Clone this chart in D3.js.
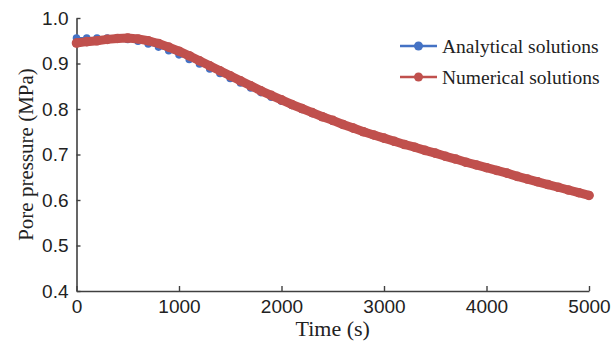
<!DOCTYPE html>
<html>
<head>
<meta charset="utf-8">
<script src="https://cdn.jsdelivr.net/npm/d3@7"></script>
<style>
  body { margin: 0; background: #fff; }
  svg { font-family: "Liberation Serif", "Times New Roman", serif; }
</style>
</head>
<body>
<svg id="chart" width="613" height="347"></svg>
<script>
const times = [0, 100, 200, 300, 400, 500, 600, 700, 800, 900,
  1000, 1100, 1200, 1300, 1400, 1500, 1600, 1700, 1800, 1900,
  2000, 2100, 2200, 2300, 2400, 2500, 2600, 2700, 2800, 2900,
  3000, 3100, 3200, 3300, 3400, 3500, 3600, 3700, 3800, 3900,
  4000, 4100, 4200, 4300, 4400, 4500, 4600, 4700, 4800, 4900, 5000];

const analytical = [0.956, 0.956, 0.956, 0.956, 0.955, 0.953, 0.949, 0.943, 0.936, 0.928,
  0.919, 0.909, 0.899, 0.888, 0.878, 0.867, 0.857, 0.846, 0.836, 0.826,
  0.817, 0.808, 0.799, 0.790, 0.782, 0.773, 0.765, 0.757, 0.750, 0.742,
  0.735, 0.729, 0.722, 0.716, 0.709, 0.703, 0.696, 0.690, 0.683, 0.677,
  0.671, 0.665, 0.659, 0.652, 0.646, 0.640, 0.634, 0.628, 0.622, 0.616, 0.610];

const numerical = [0.945, 0.948, 0.950, 0.953, 0.955, 0.956, 0.954, 0.950, 0.944, 0.936,
  0.927, 0.917, 0.906, 0.895, 0.884, 0.873, 0.862, 0.851, 0.840, 0.830,
  0.820, 0.810, 0.801, 0.792, 0.783, 0.775, 0.766, 0.758, 0.750, 0.743,
  0.736, 0.729, 0.722, 0.716, 0.709, 0.703, 0.696, 0.690, 0.683, 0.677,
  0.671, 0.665, 0.659, 0.652, 0.646, 0.640, 0.634, 0.628, 0.622, 0.616, 0.610];

const xTicks = [0, 1000, 2000, 3000, 4000, 5000];
const yTicks = [0.4, 0.5, 0.6, 0.7, 0.8, 0.9, 1.0];
const seriesNames = ['Analytical solutions', 'Numerical solutions'];

const blue = '#4472c4';
const red = '#c0504d';
const axisColor = '#404040';

const svg = d3.select('#chart');

const x = d3.scaleLinear().domain([0, 5000]).range([76.5, 589]);
const y = d3.scaleLinear().domain([0.4, 1.0]).range([291, 18]);

// axes
const xAxis = svg.append('g')
  .attr('transform', 'translate(0,' + y(0.4) + ')')
  .call(d3.axisBottom(x).tickValues(xTicks).tickFormat(d3.format('d')).tickSizeInner(-5).tickSizeOuter(0));
xAxis.select('.domain').attr('stroke', axisColor).attr('stroke-width', 1.6);
xAxis.selectAll('.tick line').attr('stroke', axisColor).attr('stroke-width', 1.4);
xAxis.selectAll('.tick text')
  .attr('y', 9)
  .attr('font-size', '19px')
  .attr('fill', '#222');

const yAxis = svg.append('g')
  .attr('transform', 'translate(' + x(0) + ',0)')
  .call(d3.axisLeft(y).tickValues(yTicks).tickFormat(d3.format('.1f')).tickSizeInner(-4).tickSizeOuter(0));
yAxis.select('.domain').attr('stroke', axisColor).attr('stroke-width', 1.6);
yAxis.selectAll('.tick line').attr('stroke', axisColor).attr('stroke-width', 1.4);
yAxis.selectAll('.tick text')
  .attr('x', -8)
  .attr('font-size', '19px')
  .attr('fill', '#222');

// axis titles
svg.append('text')
  .attr('x', (x(0) + x(5000)) / 2)
  .attr('y', 336)
  .attr('text-anchor', 'middle')
  .attr('font-size', '22px')
  .attr('fill', '#222')
  .text('Time (s)');

svg.append('text')
  .attr('transform', 'translate(33,' + (y(0.4) + y(1.0)) / 2 + ') rotate(-90)')
  .attr('text-anchor', 'middle')
  .attr('font-size', '21px')
  .attr('fill', '#222')
  .text('Pore pressure (MPa)');

const line = d3.line()
  .x(d => x(d[0]))
  .y(d => y(d[1]));

const aData = times.map((t, i) => [t, analytical[i]]);
const nData = times.map((t, i) => [t, numerical[i]]);

// analytical series
svg.append('path')
  .datum(aData)
  .attr('d', line)
  .attr('fill', 'none')
  .attr('stroke', blue)
  .attr('stroke-width', 2);

svg.append('g')
  .selectAll('circle')
  .data(aData)
  .enter()
  .append('circle')
  .attr('cx', d => x(d[0]))
  .attr('cy', d => y(d[1]))
  .attr('r', 3.8)
  .attr('fill', blue);

// numerical series
svg.append('path')
  .datum(nData)
  .attr('d', line)
  .attr('fill', 'none')
  .attr('stroke', red)
  .attr('stroke-width', 9)
  .attr('stroke-linecap', 'round')
  .attr('stroke-linejoin', 'round');

svg.append('g')
  .selectAll('circle')
  .data(nData)
  .enter()
  .append('circle')
  .attr('cx', d => x(d[0]))
  .attr('cy', d => y(d[1]))
  .attr('r', 4.8)
  .attr('fill', red);

// legend
const legend = svg.append('g');
const legendRows = legend.selectAll('g')
  .data(seriesNames)
  .enter()
  .append('g')
  .attr('transform', (d, i) => 'translate(400,' + (46 + i * 31) + ')');

legendRows.append('line')
  .attr('x1', 0)
  .attr('x2', 37)
  .attr('stroke', (d, i) => i === 0 ? blue : red)
  .attr('stroke-width', 2.5);

legendRows.append('circle')
  .attr('cx', 18.5)
  .attr('r', 4.5)
  .attr('fill', (d, i) => i === 0 ? blue : red);

legendRows.append('text')
  .attr('x', 42)
  .attr('dy', '0.35em')
  .attr('font-size', '19.5px')
  .attr('fill', '#222')
  .text(d => d);
</script>
</body>
</html>
